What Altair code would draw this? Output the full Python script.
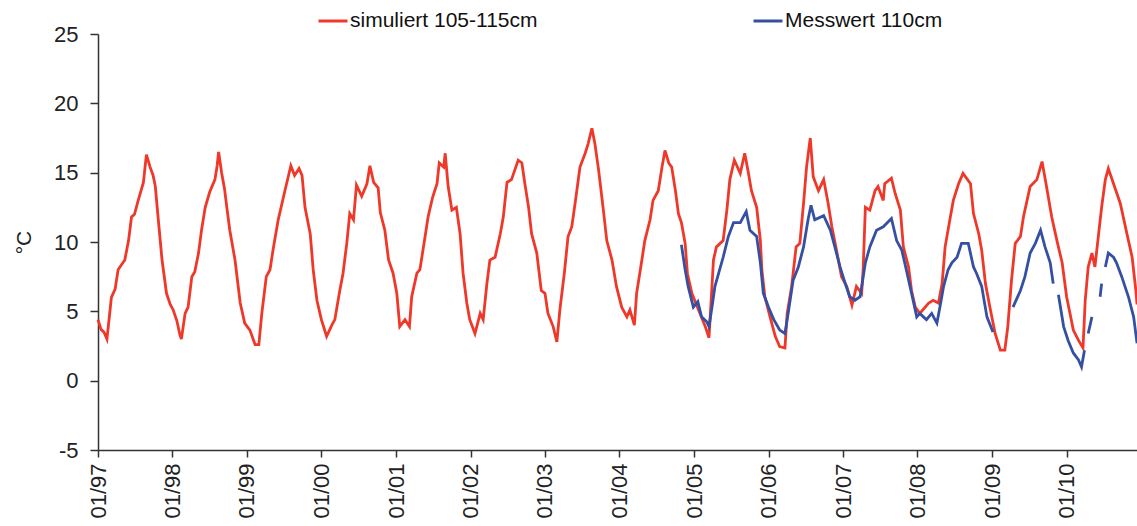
import altair as alt
import pandas as pd

# ---------------- data (decimal year, °C) ----------------
sim_label = "simuliert 105-115cm"
meas_label = "Messwert 110cm"

sim_t = [
    1997.00, 1997.04, 1997.08, 1997.12, 1997.15, 1997.18, 1997.23, 1997.27, 1997.32, 1997.36, 1997.41, 1997.45,
    1997.49, 1997.54, 1997.61, 1997.65, 1997.70, 1997.74, 1997.77, 1997.81, 1997.86, 1997.92, 1997.97,
    1998.01, 1998.06, 1998.10, 1998.12, 1998.17, 1998.21, 1998.26, 1998.30, 1998.35, 1998.39, 1998.44, 1998.50,
    1998.57, 1998.60, 1998.62, 1998.66, 1998.70, 1998.73, 1998.77, 1998.84, 1998.91, 1998.97,
    1999.04, 1999.11, 1999.16, 1999.20, 1999.26, 1999.31, 1999.35, 1999.42, 1999.51, 1999.55, 1999.59, 1999.64,
    1999.70, 1999.74, 1999.78, 1999.85, 1999.89, 1999.94,
    2000.00, 2000.07, 2000.14, 2000.18, 2000.24, 2000.29, 2000.34, 2000.38, 2000.43, 2000.47, 2000.54, 2000.61,
    2000.65, 2000.70, 2000.76, 2000.79, 2000.85, 2000.90, 2000.96,
    2001.01, 2001.05, 2001.12, 2001.18, 2001.21, 2001.28, 2001.32, 2001.39, 2001.43, 2001.49, 2001.55, 2001.58,
    2001.64, 2001.66, 2001.70, 2001.75, 2001.81, 2001.86, 2001.90, 2001.95, 2001.99,
    2002.06, 2002.13, 2002.17, 2002.22, 2002.26, 2002.33, 2002.40, 2002.44, 2002.49, 2002.55, 2002.64, 2002.69,
    2002.73, 2002.78, 2002.82, 2002.89, 2002.95,
    2003.00, 2003.04, 2003.11, 2003.16, 2003.20, 2003.26, 2003.31, 2003.36, 2003.41, 2003.47, 2003.54, 2003.58,
    2003.63, 2003.67, 2003.72, 2003.78, 2003.83, 2003.90, 2003.96,
    2004.03, 2004.10, 2004.14, 2004.20, 2004.23, 2004.28, 2004.34, 2004.41, 2004.45, 2004.52, 2004.57, 2004.61,
    2004.66, 2004.70, 2004.75, 2004.79, 2004.83, 2004.88, 2004.91, 2004.97,
    2005.06, 2005.15, 2005.20, 2005.24, 2005.26, 2005.30, 2005.39, 2005.44, 2005.48, 2005.54, 2005.62, 2005.68,
    2005.73, 2005.77, 2005.84, 2005.89, 2005.91, 2005.95,
    2006.02, 2006.09, 2006.15, 2006.22, 2006.25, 2006.31, 2006.37, 2006.42, 2006.47, 2006.51, 2006.56, 2006.60,
    2006.67, 2006.74, 2006.80, 2006.85, 2006.92, 2006.98,
    2007.05, 2007.12, 2007.18, 2007.25, 2007.27, 2007.30, 2007.36, 2007.43, 2007.47, 2007.54, 2007.56, 2007.65,
    2007.70, 2007.77, 2007.81, 2007.88, 2007.92, 2007.97,
    2008.03, 2008.15, 2008.21, 2008.28, 2008.33, 2008.37, 2008.44, 2008.48, 2008.55, 2008.61, 2008.71, 2008.75,
    2008.82, 2008.86, 2008.91, 2008.97,
    2009.04, 2009.11, 2009.17, 2009.21, 2009.26, 2009.31, 2009.38, 2009.42, 2009.51, 2009.60, 2009.67, 2009.73,
    2009.80, 2009.87, 2009.94,
    2010.00, 2010.09, 2010.16, 2010.22, 2010.25, 2010.29, 2010.34, 2010.38, 2010.43, 2010.47, 2010.52, 2010.56,
    2010.63, 2010.72, 2010.81, 2010.88, 2010.93, 2010.946,
]
sim_v = [
    4.4, 3.7, 3.5, 3.0, 4.5, 6.0, 6.6, 8.0, 8.4, 8.7, 10.1, 11.8,
    12.0, 13.0, 14.3, 16.3, 15.4, 14.8, 14.0, 11.6, 8.7, 6.3, 5.5,
    5.1, 4.3, 3.3, 3.0, 4.85, 5.3, 7.5, 7.85, 9.2, 10.85, 12.5, 13.6,
    14.5, 15.5, 16.5, 15.0, 13.8, 12.5, 10.85, 8.7, 5.6, 4.15,
    3.65, 2.6, 2.6, 4.85, 7.5, 8.0, 9.4, 11.6, 13.7, 14.6, 15.5, 14.8,
    15.3, 14.8, 12.5, 10.6, 8.0, 5.8,
    4.4, 3.2, 4.0, 4.4, 6.3, 7.75, 9.9, 12.05, 11.6, 14.1, 13.3, 14.2,
    15.5, 14.3, 13.9, 12.1, 10.85, 8.7, 7.75,
    6.3, 3.9, 4.4, 3.9, 6.05, 7.75, 8.0, 10.4, 11.8, 13.2, 14.2, 15.7,
    15.4, 16.4, 14.0, 12.3, 12.5, 10.6, 7.75, 5.6, 4.4,
    3.4, 4.85, 4.4, 7.0, 8.7, 8.9, 10.6, 11.8, 14.3, 14.5, 15.9, 15.7,
    14.2, 12.5, 10.6, 9.2, 6.5,
    6.3, 4.85, 3.9, 2.8, 5.1, 7.75, 10.4, 11.1, 13.0, 15.4, 16.4, 17.1,
    18.2, 17.1, 15.2, 12.5, 10.1, 8.7, 6.8,
    5.3, 4.6, 5.1, 4.0, 6.3, 8.0, 10.1, 11.6, 13.0, 13.7, 15.4, 16.6,
    15.7, 15.4, 13.7, 12.05, 11.4, 9.9, 7.75, 6.3,
    5.1, 3.9, 3.1, 6.8, 8.7, 9.65, 10.1, 12.3, 14.5, 15.9, 14.95, 16.4,
    14.95, 13.7, 12.5, 10.1, 8.0, 6.05,
    4.6, 3.2, 2.45, 2.35, 4.85, 6.8, 9.65, 9.9, 12.8, 15.4, 17.5, 14.7,
    13.7, 14.5, 12.8, 11.1, 9.2, 7.5,
    6.8, 5.45, 6.8, 6.3, 8.0, 12.5, 12.3, 13.7, 14.0, 13.0, 14.2, 14.6,
    13.5, 12.3, 9.65, 8.2, 6.5, 5.3,
    4.85, 5.6, 5.8, 5.6, 7.0, 9.65, 11.8, 13.0, 14.2, 14.95, 14.2, 12.05,
    10.6, 9.4, 7.0, 5.3,
    3.4, 2.2, 2.2, 3.9, 7.25, 9.9, 10.4, 11.8, 14.0, 14.5, 15.8, 14.0,
    11.8, 10.1, 8.5,
    6.05, 3.65, 2.9, 2.35, 5.8, 8.2, 9.2, 8.2, 10.6, 12.5, 14.5, 15.3,
    14.2, 12.8, 10.6, 8.9, 6.5, 5.5,
]

# measured series; None marks a gap in the record
meas_t = [
    2004.83, 2004.88, 2004.92, 2004.99, 2005.05, 2005.10, 2005.17, 2005.20, 2005.24, 2005.28, 2005.33, 2005.39,
    2005.46, 2005.53, 2005.62, 2005.70, 2005.75, 2005.84, 2005.89, 2005.93,
    2006.00, 2006.07, 2006.15, 2006.22, 2006.27, 2006.33, 2006.40, 2006.47, 2006.53, 2006.57, 2006.62, 2006.74,
    2006.83, 2006.89, 2006.96,
    2007.03, 2007.09, 2007.16, 2007.23, 2007.30, 2007.36, 2007.45, 2007.54, 2007.65, 2007.72, 2007.79, 2007.86,
    2007.92, 2007.99,
    2008.03, 2008.08, 2008.12, 2008.19, 2008.26, 2008.30, 2008.35, 2008.41, 2008.46, 2008.53, 2008.59, 2008.68,
    2008.75, 2008.79, 2008.86, 2008.93, 2009.00, 2009.01,
    2009.15,
    2009.28, 2009.38, 2009.44, 2009.51, 2009.58, 2009.65, 2009.71, 2009.78, 2009.82,
    2009.85,
    2009.89, 2009.96, 2010.02, 2010.09, 2010.16, 2010.20, 2010.24,
    2010.26,
    2010.29, 2010.34,
    2010.40,
    2010.45, 2010.47,
    2010.50,
    2010.52, 2010.56, 2010.63, 2010.67, 2010.74, 2010.83, 2010.90, 2010.946,
]
meas_v = [
    9.8, 8.0, 6.8, 5.3, 5.7, 4.6, 4.25, 3.9, 5.3, 6.8, 7.75, 8.9,
    10.4, 11.4, 11.4, 12.2, 10.85, 10.4, 8.5, 6.3,
    5.3, 4.4, 3.65, 3.4, 5.1, 7.25, 8.2, 9.65, 11.6, 12.65, 11.6, 11.9,
    10.85, 9.65, 8.2,
    7.0, 6.05, 5.8, 6.05, 8.5, 9.65, 10.85, 11.1, 11.7, 10.1, 9.4, 7.75,
    6.3, 4.6,
    4.85, 4.6, 4.4, 4.85, 4.15, 5.3, 6.8, 8.0, 8.5, 8.9, 9.9, 9.9,
    8.2, 7.75, 6.8, 4.6, 3.65, 3.5,
    None,
    5.3, 6.5, 7.5, 9.2, 9.9, 10.85, 9.65, 8.5, 7.0,
    None,
    6.2, 3.9, 2.9, 2.0, 1.5, 1.0, 2.2,
    None,
    3.4, 4.6,
    None,
    6.05, 7.0,
    None,
    8.2, 9.2, 8.9, 8.5, 7.5, 6.05, 4.6, 2.7,
]

year_ticks = list(range(1997, 2011))
y_ticks = [-5, 0, 5, 10, 15, 20, 25]

RED = "#EF3829"
BLUE = "#3550A3"
FONT = "Liberation Sans"


def to_iso(t):
    y = int(t)
    start = pd.Timestamp(year=y, month=1, day=1)
    end = pd.Timestamp(year=y + 1, month=1, day=1)
    return (start + (end - start) * (t - y)).strftime("%Y-%m-%dT%H:%M:%S")


sim_df = pd.DataFrame({
    "date": [to_iso(t) for t in sim_t],
    "value": sim_v,
    "series": sim_label,
    "seg": 0,
})

rows = []
seg = 0
for t, v in zip(meas_t, meas_v):
    if v is None:
        seg += 1
        continue
    rows.append({"date": to_iso(t), "value": v, "series": meas_label, "seg": seg})
meas_df = pd.DataFrame(rows)

x_enc = alt.X(
    "date:T",
    scale=alt.Scale(domain=[alt.DateTime(year=1997, month=1, date=1),
                            alt.DateTime(year=2010, month=12, date=12)]),
    axis=alt.Axis(
        values=[alt.DateTime(year=y, month=1, date=1) for y in year_ticks],
        format="%m/%y", labelAngle=270, title=None, grid=False,
        tickSize=7, labelPadding=6, labelFontSize=22,
    ),
)
y_enc = alt.Y(
    "value:Q",
    scale=alt.Scale(domain=[-5, 25], nice=False, zero=False),
    axis=alt.Axis(
        values=y_ticks, title="°C", grid=False, tickSize=8, labelPadding=12,
        labelExpr="'' + datum.value",
        labelFontSize=22, titleFontSize=21, titleFontWeight="normal", titlePadding=19,
    ),
)
legend = alt.Legend(
    title=None, orient="none", legendX=219, legendY=-29, direction="horizontal",
    symbolType="stroke", symbolSize=841, symbolStrokeWidth=3,
    labelFontSize=21, labelFont=FONT, labelColor="#111111", labelLimit=400,
    labelOffset=1, columnPadding=209,
)
color_enc = alt.Color(
    "series:N",
    scale=alt.Scale(domain=[sim_label, meas_label], range=[RED, BLUE]),
    legend=legend,
)

sim_layer = alt.Chart(sim_df).mark_line(strokeWidth=2.8).encode(x=x_enc, y=y_enc, color=color_enc)
meas_layer = alt.Chart(meas_df).mark_line(strokeWidth=2.8).encode(
    x=x_enc, y=y_enc, color=color_enc, detail="seg:N"
)

chart = (
    alt.layer(sim_layer, meas_layer)
    .properties(
        width=1039, height=416,
        padding={"left": 98, "top": 34, "right": 0, "bottom": 76},
        autosize=alt.AutoSizeParams(type="none"),
        background="white",
    )
    .configure_view(stroke=None)
    .configure_axis(
        labelFont=FONT, titleFont=FONT, labelColor="#222222", titleColor="#222222",
        domainColor="#333333", tickColor="#333333", domainWidth=1.5, tickWidth=1.5,
    )
)

chart.save("out.html", embed_options={"renderer": "svg", "actions": False})
